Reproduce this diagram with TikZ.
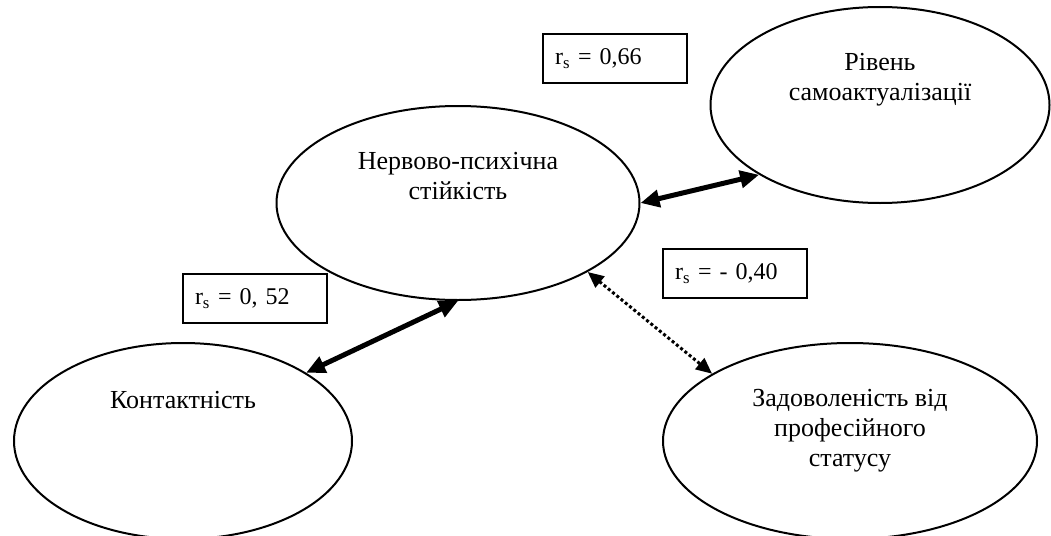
\documentclass[tikz,border=0pt]{standalone}
\usepackage{fontspec}
\setmainfont{Liberation Serif}
\usetikzlibrary{positioning, arrows.meta, shapes.geometric}

\begin{document}
\begin{tikzpicture}[
    x=1pt, y=-1pt,
    factor/.style={ellipse, draw=black, line width=2pt, inner sep=0pt},
    caption/.style={align=center, font=\fontsize{26pt}{30pt}\selectfont},
    coef/.style={rectangle, draw=black, line width=2pt, text width=120pt, inner xsep=12pt, minimum height=49pt, align=left, font=\fontsize{24pt}{28pt}\selectfont},
    strong/.style={{Triangle[length=19pt, width=17pt]}-{Triangle[length=19pt, width=17pt]}, line width=5pt},
    weak/.style={{Triangle[length=16pt, width=14pt]}-{Triangle[length=16pt, width=14pt]}, line width=3pt, dash pattern=on 3pt off 2.5pt}
]
\useasboundingbox (0,0) rectangle (1051,535);

\node[factor, minimum width=363pt, minimum height=194pt,
      label={[caption, yshift=27pt, name=nps-t]center:Нервово-психічна\\стійкість}] (nps) at (458,203) {};
\node[factor, minimum width=339pt, minimum height=196pt,
      label={[caption, yshift=25pt, name=sa-t]center:Рівень\\самоактуалізації}] (sa) at (880,105) {};
\node[factor, minimum width=338pt, minimum height=196pt,
      label={[caption, yshift=41pt, name=cont-t]center:Контактність}] (cont) at (183,441) {};
\node[factor, minimum width=374pt, minimum height=196pt,
      label={[caption, yshift=10pt, name=zad-t]center:Задоволеність від\\професійного\\статусу}] (zad) at (850,441) {};

\node[coef] (rsa) at (615,58.5) {r\textsubscript{s} = 0,66};
\node[coef] (rzad) at (735,273.5) {r\textsubscript{s} = - 0,40};
\node[coef] (rcont) at (255,298.5) {r\textsubscript{s} = 0, 52};

\draw[strong] (nps.east) -- (sa.210);
\draw[strong] (nps.south) -- (cont.29);
\draw[weak] (nps.-28) -- (zad.154);
\end{tikzpicture}
\end{document}
